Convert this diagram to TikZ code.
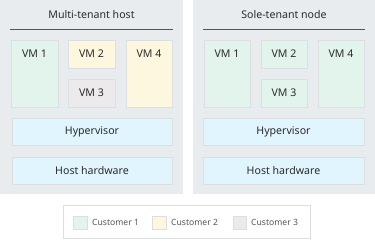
\documentclass[tikz,border=0pt]{standalone}
\usepackage{fontspec}
\setmainfont{Noto Sans}
\definecolor{panel}{HTML}{E8ECEF}
\definecolor{cgreen}{HTML}{E3F4EC}
\definecolor{cyellow}{HTML}{FEF7E0}
\definecolor{cgrey}{HTML}{ECEAEA}
\definecolor{cblue}{HTML}{E1F5FE}
\definecolor{bord}{HTML}{DCDFE1}
\definecolor{txt}{HTML}{2B2B2B}
\begin{document}
\begin{tikzpicture}[x=1pt,y=-1pt,
  panelbox/.style={fill=panel,draw=none},
  vmbox/.style={draw=bord,line width=0.6pt},
  lbl/.style={text=txt,font=\fontsize{10.6}{12}\selectfont},
  leg/.style={text=txt!80,font=\fontsize{8.6}{10}\selectfont,anchor=west,inner sep=0pt}]
\useasboundingbox (0,0) rectangle (375,241);
\fill[white] (0,0) rectangle (375,241);
% panels
\fill[panelbox] (0,0) rectangle (183,194);
\fill[panelbox] (193,0) rectangle (375,194);
% left panel
\node[lbl] (t1) at (91.5,15) {Multi-tenant host};
\draw[txt!80,line width=0.6pt] (10,29) -- (173,29);
\draw[vmbox,fill=cgreen] (11,40) rectangle (58,107);
\node[lbl] (l1) at (34.5,54) {VM 1};
\draw[vmbox,fill=cyellow] (68,40) rectangle (115,68);
\node[lbl] (l2) at (91.5,54) {VM 2};
\draw[vmbox,fill=cgrey] (68,79) rectangle (115,107);
\node[lbl] (l3) at (91.5,93) {VM 3};
\draw[vmbox,fill=cyellow] (126,40) rectangle (172,107);
\node[lbl] (l4) at (149,54) {VM 4};
\draw[vmbox,fill=cblue] (12,118) rectangle (172,145);
\node[lbl] (h1) at (92,131.5) {Hypervisor};
\draw[vmbox,fill=cblue] (12,157) rectangle (172,184);
\node[lbl] (hw1) at (92,170.5) {Host hardware};
% right panel
\node[lbl] (t2) at (284,15) {Sole-tenant node};
\draw[txt!80,line width=0.6pt] (203,29) -- (365,29);
\draw[vmbox,fill=cgreen] (204,40) rectangle (250,107);
\node[lbl] (r1) at (227,54) {VM 1};
\draw[vmbox,fill=cgreen] (261,40) rectangle (307,68);
\node[lbl] (r2) at (284,54) {VM 2};
\draw[vmbox,fill=cgreen] (261,79) rectangle (307,107);
\node[lbl] (r3) at (284,93) {VM 3};
\draw[vmbox,fill=cgreen] (318,40) rectangle (364,107);
\node[lbl] (r4) at (341,54) {VM 4};
\draw[vmbox,fill=cblue] (203,118) rectangle (364,145);
\node[lbl] (h2) at (283.5,131.5) {Hypervisor};
\draw[vmbox,fill=cblue] (203,157) rectangle (364,184);
\node[lbl] (hw2) at (283.5,170.5) {Host hardware};
% legend
\draw[draw=bord,fill=white,line width=0.6pt] (63,205) rectangle (310,238);
\draw[vmbox,fill=cgreen] (73,216) rectangle (87,229);
\node[leg] (c1) at (92,222.5) {Customer 1};
\draw[vmbox,fill=cyellow] (152,216) rectangle (166,229);
\node[leg] (c2) at (171,222.5) {Customer 2};
\draw[vmbox,fill=cgrey] (233,216) rectangle (246,229);
\node[leg] (c3) at (251,222.5) {Customer 3};
\end{tikzpicture}
\end{document}
